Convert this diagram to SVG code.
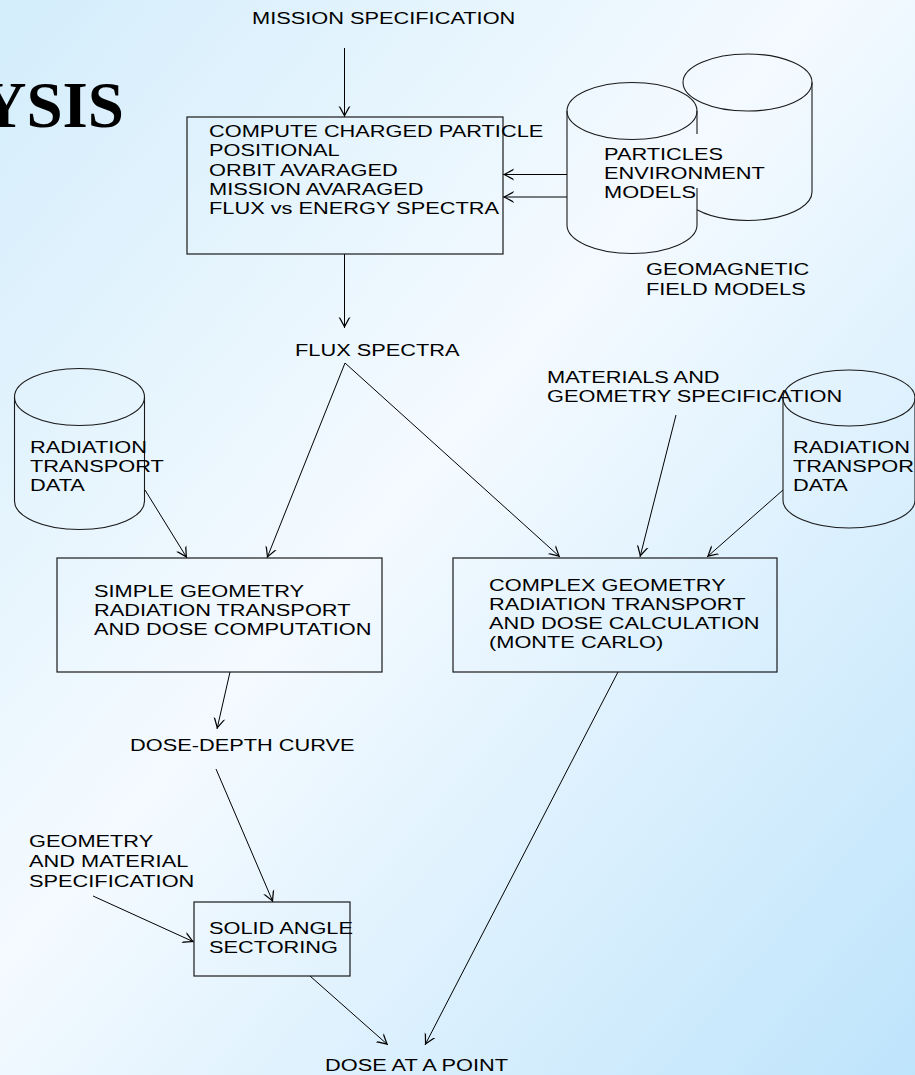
<svg xmlns="http://www.w3.org/2000/svg" width="915" height="1075" viewBox="0 0 915 1075">
<defs>
<linearGradient id="bg" x1="0" y1="0" x2="1" y2="1">
<stop offset="0" stop-color="#d3edfb"/>
<stop offset="0.45" stop-color="#f4faff"/>
<stop offset="1" stop-color="#bee4fb"/>
</linearGradient>
<marker id="arr" markerUnits="userSpaceOnUse" markerWidth="16" markerHeight="16" viewBox="-14 -8 16 16" refX="0" refY="0" orient="auto" overflow="visible">
<path d="M0,0 L-11,-6 L-10,-4 L-2.5,0 L-10,4 L-11,6 Z" fill="#000"/>
</marker>
<style>
.t{font-family:"Liberation Sans",Arial,sans-serif;font-size:16.5px;fill:#000}
.title{font-family:"Liberation Serif","Times New Roman",serif;font-size:65px;font-weight:bold;fill:#000}
.box{fill:none;stroke:#1a1a1a;stroke-width:1.2}
.cyl{fill:none;stroke:#1a1a1a;stroke-width:1.1}
.c{fill:none;stroke:#000;stroke-width:1;marker-end:url(#arr)}
</style>
</defs>
<rect x="0" y="0" width="915" height="1075" fill="url(#bg)"/>
<text class="title" x="124" y="127" text-anchor="end">YSIS</text>

<g id="connectors">
<line class="c" x1="344.5" y1="48" x2="344.5" y2="117"/>
<line class="c" x1="567" y1="174.5" x2="503" y2="174.5"/>
<line class="c" x1="567" y1="197" x2="503" y2="197"/>
<line class="c" x1="344.5" y1="254" x2="344.5" y2="328"/>
<line class="c" x1="345" y1="363" x2="267" y2="558"/>
<line class="c" x1="345" y1="363" x2="560" y2="557"/>
<line class="c" x1="145" y1="490" x2="187" y2="558"/>
<line class="c" x1="676" y1="415" x2="640" y2="557"/>
<line class="c" x1="783" y1="490" x2="707" y2="557"/>
<line class="c" x1="230" y1="672" x2="217" y2="729"/>
<line class="c" x1="216" y1="769" x2="273" y2="902"/>
<line class="c" x1="93" y1="896" x2="194" y2="942"/>
<line class="c" x1="310" y1="976" x2="388" y2="1045"/>
<line class="c" x1="618" y1="672" x2="425" y2="1045"/>
</g>

<g id="mission-spec">
<text class="t" transform="translate(252,24) scale(1.32,1)">MISSION SPECIFICATION</text>
</g>

<g id="compute-box">
<rect class="box" x="187" y="117" width="316" height="137"/>
<text class="t" transform="translate(209,137) scale(1.32,1)"><tspan x="0" y="0">COMPUTE CHARGED PARTICLE</tspan><tspan x="0" y="19.3">POSITIONAL</tspan><tspan x="0" y="38.6">ORBIT AVARAGED</tspan><tspan x="0" y="57.9">MISSION AVARAGED</tspan><tspan x="0" y="77.2">FLUX vs ENERGY SPECTRA</tspan></text>
</g>

<g id="particles-db">
<ellipse class="cyl" cx="747.5" cy="82.5" rx="64.5" ry="28.5"/>
<path class="cyl" d="M812,82.5 V192 A64.5,28.5 0 0 1 697,209.7"/>
<ellipse class="cyl" cx="632" cy="111" rx="65" ry="28.5"/>
<path class="cyl" d="M567,111 V225 A65,28.5 0 0 0 697,225 V188 M697,111 V134"/>
<text class="t" transform="translate(604,160) scale(1.32,1)"><tspan x="0" y="0">PARTICLES</tspan><tspan x="0" y="19.2">ENVIRONMENT</tspan><tspan x="0" y="38.4">MODELS</tspan></text>
</g>

<g id="geomagnetic">
<text class="t" transform="translate(646,275) scale(1.32,1)"><tspan x="0" y="0">GEOMAGNETIC</tspan><tspan x="0" y="20">FIELD MODELS</tspan></text>
</g>

<g id="flux-spectra">
<text class="t" transform="translate(295,356) scale(1.32,1)">FLUX SPECTRA</text>
</g>

<g id="rad-data-left">
<ellipse class="cyl" cx="79.5" cy="397" rx="65" ry="28.5"/>
<path class="cyl" d="M14.5,397 V501 A65,28.5 0 0 0 144.5,501 V397"/>
<text class="t" transform="translate(30,453) scale(1.32,1)"><tspan x="0" y="0">RADIATION</tspan><tspan x="0" y="19.2">TRANSPORT</tspan><tspan x="0" y="38.4">DATA</tspan></text>
</g>

<g id="materials-spec">
<text class="t" transform="translate(547,383) scale(1.32,1)"><tspan x="0" y="0">MATERIALS AND</tspan><tspan x="0" y="19.5">GEOMETRY SPECIFICATION</tspan></text>
</g>

<g id="rad-data-right">
<ellipse class="cyl" cx="849" cy="398" rx="66" ry="28"/>
<path class="cyl" d="M783,398 V500 A66,28 0 0 0 915,500 V398"/>
<text class="t" transform="translate(793,453) scale(1.32,1)"><tspan x="0" y="0">RADIATION</tspan><tspan x="0" y="19.2">TRANSPOR</tspan><tspan x="0" y="38.4">DATA</tspan></text>
</g>

<g id="simple-box">
<rect class="box" x="57" y="558" width="325" height="114"/>
<text class="t" transform="translate(94,597) scale(1.32,1)"><tspan x="0" y="0">SIMPLE GEOMETRY</tspan><tspan x="0" y="19.2">RADIATION TRANSPORT</tspan><tspan x="0" y="38.4">AND DOSE COMPUTATION</tspan></text>
</g>

<g id="complex-box">
<rect class="box" x="453" y="558" width="324" height="114"/>
<text class="t" transform="translate(489,590.7) scale(1.32,1)"><tspan x="0" y="0">COMPLEX GEOMETRY</tspan><tspan x="0" y="19.2">RADIATION TRANSPORT</tspan><tspan x="0" y="38.4">AND DOSE CALCULATION</tspan><tspan x="0" y="57.6">(MONTE CARLO)</tspan></text>
</g>

<g id="dose-depth">
<text class="t" transform="translate(130,751) scale(1.32,1)">DOSE-DEPTH CURVE</text>
</g>

<g id="geometry-spec">
<text class="t" transform="translate(29,847) scale(1.32,1)"><tspan x="0" y="0">GEOMETRY</tspan><tspan x="0" y="20">AND MATERIAL</tspan><tspan x="0" y="40">SPECIFICATION</tspan></text>
</g>

<g id="solid-angle-box">
<rect class="box" x="194" y="902" width="156" height="74"/>
<text class="t" transform="translate(209,934) scale(1.32,1)"><tspan x="0" y="0">SOLID ANGLE</tspan><tspan x="0" y="19.3">SECTORING</tspan></text>
</g>

<g id="dose-point">
<text class="t" transform="translate(325,1071) scale(1.32,1)">DOSE AT A POINT</text>
</g>
</svg>
